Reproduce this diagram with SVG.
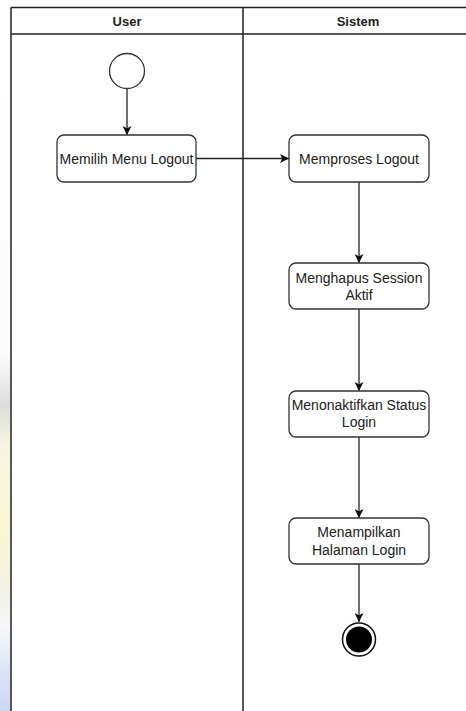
<svg xmlns="http://www.w3.org/2000/svg" width="466" height="711" viewBox="0 0 466 711">
<style>
.lane{fill:none;stroke:#222;stroke-width:1.5}
.node rect{fill:#fff;stroke:#333;stroke-width:1.3}
.node text, .hdr{font-family:"Liberation Sans",Arial,sans-serif;fill:#222;text-anchor:middle}
.node text{font-size:14px}
.hdr{font-size:13px;font-weight:bold}
.edge{fill:none;stroke:#222;stroke-width:1.3;marker-end:url(#arr)}
</style>
<defs>
<marker id="arr" viewBox="0 0 10 10" refX="10" refY="5" markerWidth="9" markerHeight="9" markerUnits="userSpaceOnUse" orient="auto">
<path d="M0,0 L10,5 L0,10 L2.5,5 Z" fill="#111"/>
</marker>
<linearGradient id="wm" x1="0" y1="0" x2="0" y2="1">
<stop offset="0" stop-color="#fff"/>
<stop offset="0.5" stop-color="#fbfbfb"/>
<stop offset="0.57" stop-color="#dcdedb"/>
<stop offset="0.63" stop-color="#f8f6e2"/>
<stop offset="0.75" stop-color="#fbf8d6"/>
<stop offset="0.83" stop-color="#f2f1e4"/>
<stop offset="0.88" stop-color="#f6f8fa"/>
<stop offset="0.95" stop-color="#d9e2f6"/>
<stop offset="1" stop-color="#cdd8f2"/>
</linearGradient>
</defs>
<rect width="466" height="711" fill="#fff"/>
<rect x="0" y="0" width="10.5" height="711" fill="url(#wm)"/>
<g id="swimlanes">
<path class="lane" d="M11,7.5 H466 M11,7.5 V711 M243,7.5 V711 M11,34 H466"/>
<text class="hdr" x="127" y="25.5">User</text>
<text class="hdr" x="358" y="25.5">Sistem</text>
</g>
<g id="connectors">
<path class="edge" d="M127,89 V135"/>
<path class="edge" d="M196,158.5 H289"/>
<path class="edge" d="M359,182 V263"/>
<path class="edge" d="M359,309 V391"/>
<path class="edge" d="M359,437 V518"/>
<path class="edge" d="M359,564 V622"/>
</g>
<g id="start">
<circle cx="127" cy="71" r="17.5" fill="#fff" stroke="#333" stroke-width="1.3"/>
</g>
<g id="n1" class="node">
<rect x="57" y="135" width="139" height="47" rx="7"/>
<text x="126.5" y="163.5">Memilih Menu Logout</text>
</g>
<g id="n2" class="node">
<rect x="289" y="135" width="140" height="47" rx="7"/>
<text x="359" y="163.5">Memproses Logout</text>
</g>
<g id="n3" class="node">
<rect x="289" y="263" width="140" height="46" rx="7"/>
<text x="359" y="283">Menghapus Session</text>
<text x="359" y="300">Aktif</text>
</g>
<g id="n4" class="node">
<rect x="289" y="391" width="140" height="46" rx="7"/>
<text x="359" y="410">Menonaktifkan Status</text>
<text x="359" y="427">Login</text>
</g>
<g id="n5" class="node">
<rect x="289" y="518" width="140" height="46" rx="7"/>
<text x="359" y="537">Menampilkan</text>
<text x="359" y="554.5">Halaman Login</text>
</g>
<g id="end">
<circle cx="359" cy="639.5" r="16.5" fill="#fff" stroke="#111" stroke-width="1.5"/>
<circle cx="359" cy="639.5" r="13" fill="#000"/>
</g>
</svg>
